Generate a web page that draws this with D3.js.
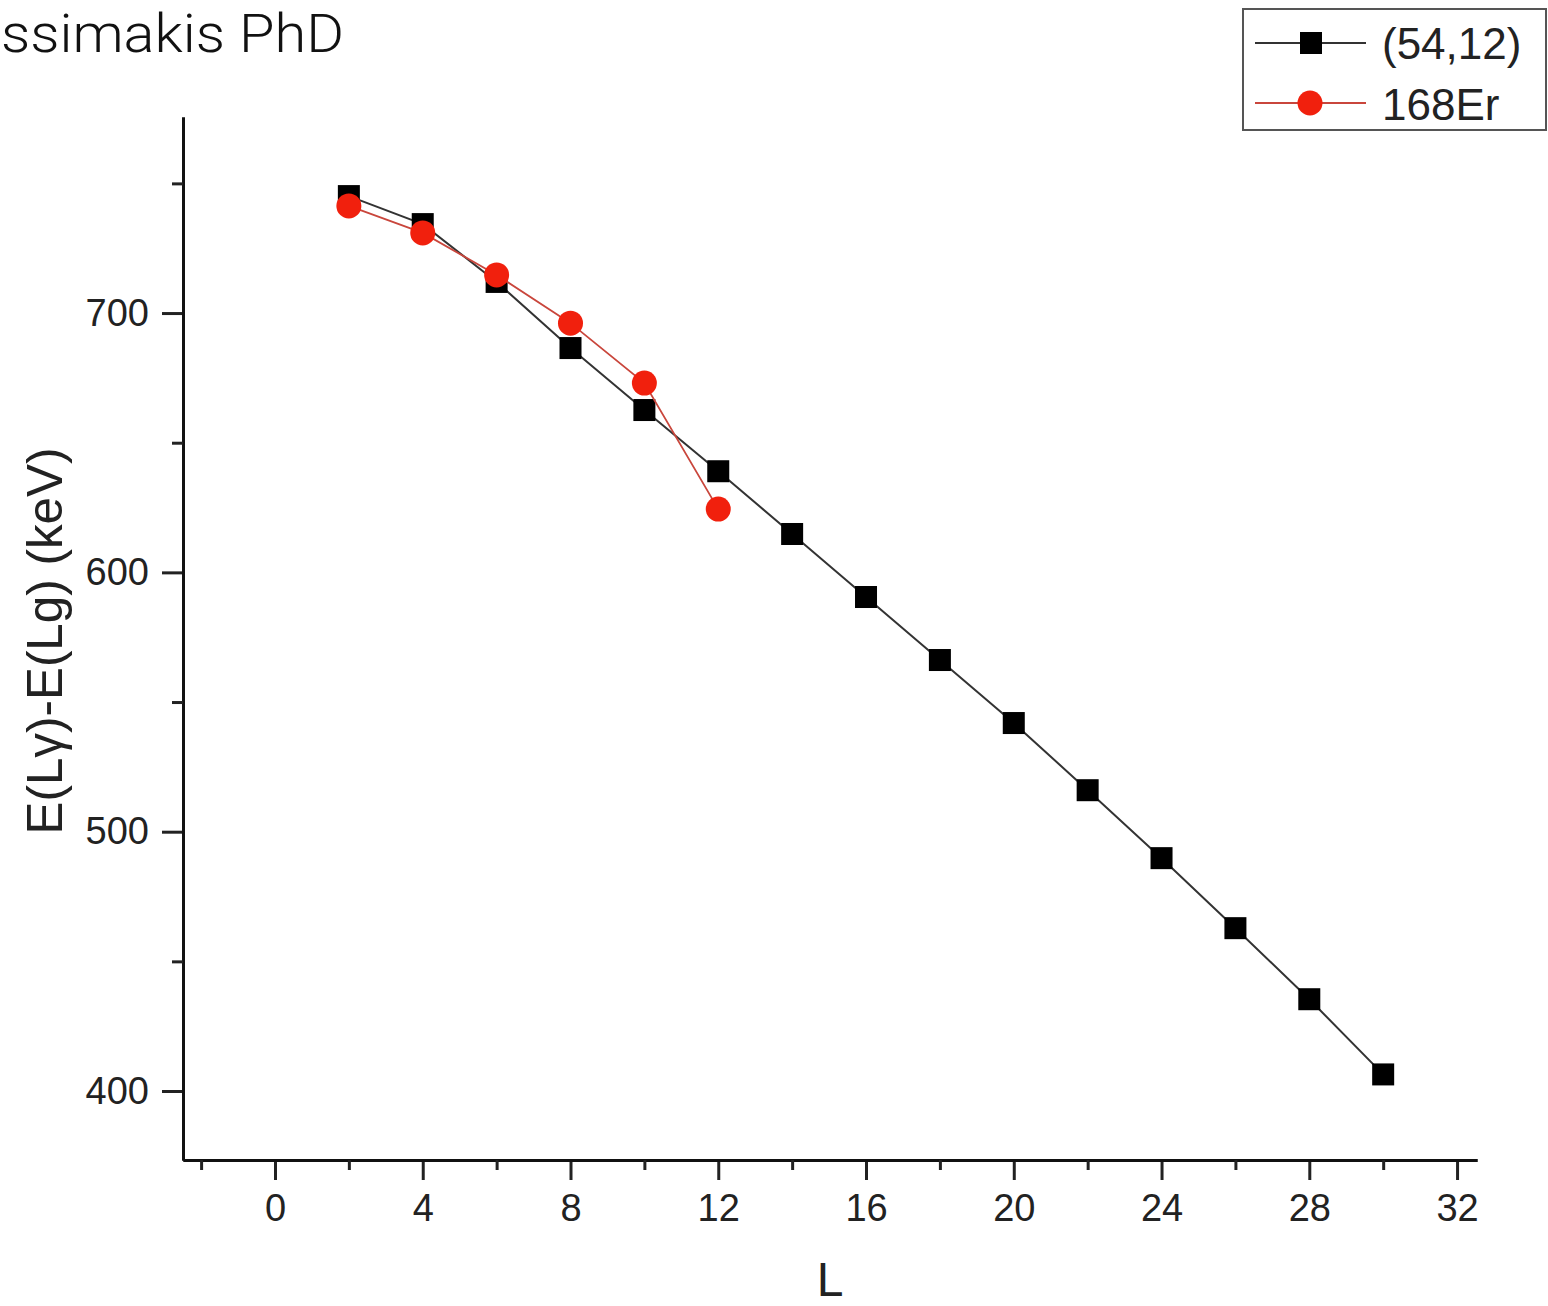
<!DOCTYPE html>
<html>
<head>
<meta charset="utf-8">
<script src="https://cdn.jsdelivr.net/npm/d3@7"></script>
<style>
  html, body { margin: 0; padding: 0; background: #fff; }
  svg { display: block; }
</style>
</head>
<body>
<div id="chart"></div>
<script>
// Angular momentum values L
const L_model = [2, 4, 6, 8, 10, 12, 14, 16, 18, 20, 22, 24, 26, 28, 30];
// (54,12) irrep energy differences E(Lγ)-E(Lg) in keV
const E_model = [745.1, 734.3, 712.0, 686.5, 662.6, 639.0, 614.8, 590.5, 566.2, 541.9, 516.0, 489.8, 462.8, 435.4, 406.4];
// 168Er experimental values
const L_exp = [2, 4, 6, 8, 10, 12];
const E_exp = [741.3, 730.9, 714.7, 696.1, 673.0, 624.4];

const xMajorTicks = [0, 4, 8, 12, 16, 20, 24, 28, 32];
const xMinorTicks = [-2, 2, 6, 10, 14, 18, 22, 26, 30];
const yMajorTicks = [400, 500, 600, 700];
const yMinorTicks = [450, 550, 650, 750];

const seriesNames = ["(54,12)", "168Er"];

const W = 1548, H = 1306;
const plotLeft = 183, plotRight = 1477, plotTop = 117, plotBottom = 1160;

const svg = d3.select("#chart").append("svg")
  .attr("width", W).attr("height", H)
  .attr("viewBox", `0 0 ${W} ${H}`);

const x = d3.scaleLinear().domain([-2.49, 32.54]).range([plotLeft, plotRight]);
const y = d3.scaleLinear().domain([373.4, 775.6]).range([plotBottom, plotTop]);

const tickFont = "Liberation Sans, Arial, sans-serif";

// Heading text
svg.append("text")
  .attr("x", 1).attr("y", 52)
  .attr("font-family", "Roboto, Helvetica, sans-serif")
  .attr("font-weight", 300)
  .attr("font-size", 54)
  .attr("fill", "#111")
  .attr("textLength", 343)
  .attr("lengthAdjust", "spacingAndGlyphs")
  .text("ssimakis PhD");

// X axis
const xAxis = svg.append("g").attr("transform", `translate(0,${plotBottom})`);
xAxis.call(d3.axisBottom(x).tickValues(xMajorTicks).tickSize(20).tickSizeOuter(0).tickPadding(14).tickFormat(d3.format("d")));
xAxis.append("g").call(d3.axisBottom(x).tickValues(xMinorTicks).tickSize(10).tickSizeOuter(0).tickFormat(""));
xAxis.selectAll("path").attr("stroke", "#111").attr("stroke-width", 3);
xAxis.selectAll("line").attr("stroke", "#222").attr("stroke-width", 3);
xAxis.selectAll("text").attr("font-family", tickFont).attr("font-size", 38).attr("fill", "#222");

// Y axis
const yAxis = svg.append("g").attr("transform", `translate(${plotLeft},0)`);
yAxis.call(d3.axisLeft(y).tickValues(yMajorTicks).tickSize(21).tickSizeOuter(0).tickPadding(13).tickFormat(d3.format("d")));
yAxis.append("g").call(d3.axisLeft(y).tickValues(yMinorTicks).tickSize(11).tickSizeOuter(0).tickFormat(""));
yAxis.selectAll("path").attr("stroke", "#111").attr("stroke-width", 3);
yAxis.selectAll("line").attr("stroke", "#222").attr("stroke-width", 3);
yAxis.selectAll("text").attr("font-family", tickFont).attr("font-size", 38).attr("fill", "#222");

// Axis titles
svg.append("text")
  .attr("x", 830).attr("y", 1296)
  .attr("text-anchor", "middle")
  .attr("font-family", tickFont).attr("font-size", 48).attr("fill", "#222")
  .text("L");

svg.append("text")
  .attr("transform", `translate(62,641) rotate(-90)`)
  .attr("text-anchor", "middle")
  .attr("font-family", tickFont).attr("font-size", 50).attr("fill", "#222")
  .attr("textLength", 387)
  .attr("lengthAdjust", "spacingAndGlyphs")
  .text("E(Lγ)-E(Lg) (keV)");

const modelData = L_model.map((l, i) => ({ l, e: E_model[i] }));
const expData = L_exp.map((l, i) => ({ l, e: E_exp[i] }));

const line = d3.line().x(d => x(d.l)).y(d => y(d.e));

// (54,12) series
svg.append("path").datum(modelData)
  .attr("d", line).attr("fill", "none")
  .attr("stroke", "#333").attr("stroke-width", 2);
svg.selectAll(".sq").data(modelData).enter().append("rect")
  .attr("class", "sq")
  .attr("x", d => x(d.l) - 11).attr("y", d => y(d.e) - 11)
  .attr("width", 22).attr("height", 22)
  .attr("fill", "#000");

// 168Er series
svg.append("path").datum(expData)
  .attr("d", line).attr("fill", "none")
  .attr("stroke", "#c9463c").attr("stroke-width", 1.8);
svg.selectAll(".ci").data(expData).enter().append("circle")
  .attr("class", "ci")
  .attr("cx", d => x(d.l)).attr("cy", d => y(d.e))
  .attr("r", 12.5)
  .attr("fill", "#f1200d");

// Legend
const lg = svg.append("g");
lg.append("rect")
  .attr("x", 1243).attr("y", 9).attr("width", 303).attr("height", 121)
  .attr("fill", "#fff").attr("stroke", "#555").attr("stroke-width", 2);
lg.append("line").attr("x1", 1255).attr("x2", 1366).attr("y1", 43).attr("y2", 43)
  .attr("stroke", "#333").attr("stroke-width", 2);
lg.append("rect").attr("x", 1300).attr("y", 32).attr("width", 22).attr("height", 22).attr("fill", "#000");
lg.append("line").attr("x1", 1255).attr("x2", 1366).attr("y1", 103).attr("y2", 103)
  .attr("stroke", "#c9463c").attr("stroke-width", 1.8);
lg.append("circle").attr("cx", 1310).attr("cy", 103).attr("r", 12.5).attr("fill", "#f1200d");
lg.selectAll(".lt").data(seriesNames).enter().append("text")
  .attr("class", "lt")
  .attr("x", 1382).attr("y", (d, i) => 59 + i * 61)
  .attr("font-family", tickFont).attr("font-size", 44).attr("fill", "#222")
  .text(d => d);
</script>
</body>
</html>
